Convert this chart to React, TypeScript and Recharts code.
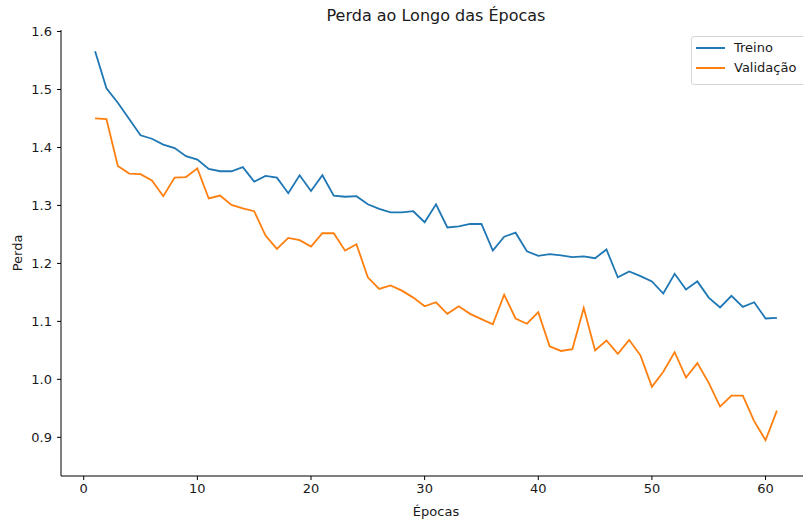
import React from "react";
import { LineChart, Line, XAxis, YAxis } from "recharts";

const epochs = [
  1, 2, 3, 4, 5, 6, 7, 8, 9, 10, 11, 12, 13, 14, 15, 16, 17, 18, 19, 20, 21,
  22, 23, 24, 25, 26, 27, 28, 29, 30, 31, 32, 33, 34, 35, 36, 37, 38, 39, 40,
  41, 42, 43, 44, 45, 46, 47, 48, 49, 50, 51, 52, 53, 54, 55, 56, 57, 58, 59,
  60, 61,
];

const treino = [
  1.566, 1.502, 1.477, 1.449, 1.421, 1.415, 1.405, 1.399, 1.385, 1.379, 1.363,
  1.359, 1.359, 1.366, 1.341, 1.351, 1.348, 1.321, 1.352, 1.325, 1.352, 1.317,
  1.315, 1.316, 1.302, 1.294, 1.288, 1.288, 1.290, 1.271, 1.302, 1.262, 1.264,
  1.268, 1.268, 1.222, 1.246, 1.253, 1.221, 1.213, 1.216, 1.214, 1.211, 1.212,
  1.209, 1.224, 1.176, 1.186, 1.178, 1.169, 1.148, 1.182, 1.155, 1.169, 1.141,
  1.124, 1.144, 1.125, 1.133, 1.105, 1.106,
];

const validacao = [
  1.450, 1.449, 1.368, 1.355, 1.354, 1.343, 1.316, 1.348, 1.349, 1.364, 1.312,
  1.317, 1.301, 1.295, 1.290, 1.248, 1.225, 1.244, 1.240, 1.229, 1.252, 1.252,
  1.222, 1.233, 1.176, 1.156, 1.162, 1.153, 1.141, 1.126, 1.133, 1.113, 1.126,
  1.113, 1.104, 1.095, 1.146, 1.105, 1.096, 1.116, 1.057, 1.049, 1.052, 1.123,
  1.050, 1.067, 1.044, 1.068, 1.041, 0.987, 1.013, 1.047, 1.003, 1.028, 0.994,
  0.953, 0.972, 0.972, 0.928, 0.895, 0.946,
];

const xTicks = [0, 10, 20, 30, 40, 50, 60];
const yTicks = [0.9, 1.0, 1.1, 1.2, 1.3, 1.4, 1.5, 1.6];

const seriesNames = ["Treino", "Validação"];
const colors = ["#1f77b4", "#ff7f0e"];

const data = epochs.map((e, i) => ({
  epoch: e,
  treino: treino[i],
  validacao: validacao[i],
}));

const FONT = "'DejaVu Sans', sans-serif";
const tickStyle = { fontSize: 13, fill: "#1a1a1a", fontFamily: FONT };

export default function App() {
  return (
    <div
      style={{
        position: "absolute",
        left: 0,
        top: 0,
        width: 803,
        height: 524,
        overflow: "hidden",
        background: "#fff",
        fontFamily: FONT,
      }}
    >
      <LineChart
        width={820}
        height={524}
        data={data}
        margin={{ top: 30, right: 9, bottom: 18, left: 0 }}
      >
        <XAxis
          xAxisId="main"
          dataKey="epoch"
          type="number"
          domain={[-2, 64]}
          ticks={xTicks}
          allowDataOverflow
          height={30}
          tickSize={4}
          tickMargin={4}
          tick={tickStyle}
          stroke="#000"
          tickLine={{ stroke: "#000" }}
          axisLine={{ stroke: "#000" }}
        />
        <XAxis
          xAxisId="top"
          orientation="top"
          type="number"
          domain={[-2, 64]}
          height={0}
          tick={false}
          tickLine={false}
          axisLine={{ stroke: "#000" }}
        />
        <YAxis
          type="number"
          domain={[0.8333, 1.6026]}
          ticks={yTicks}
          allowDataOverflow
          width={61}
          tickSize={4}
          tickMargin={5}
          tick={tickStyle}
          tickFormatter={(v: number) => v.toFixed(1)}
          tickLine={{ stroke: "#000" }}
          axisLine={{ stroke: "#000" }}
        />
        <Line
          xAxisId="main"
          type="linear"
          dataKey="treino"
          name={seriesNames[0]}
          stroke={colors[0]}
          strokeWidth={1.8}
          dot={false}
          isAnimationActive={false}
        />
        <Line
          xAxisId="main"
          type="linear"
          dataKey="validacao"
          name={seriesNames[1]}
          stroke={colors[1]}
          strokeWidth={1.8}
          dot={false}
          isAnimationActive={false}
        />
      </LineChart>

      <div
        style={{
          position: "absolute",
          left: 236,
          width: 400,
          top: 5,
          textAlign: "center",
          fontSize: 16,
          lineHeight: "22px",
          color: "#1a1a1a",
        }}
      >
        Perda ao Longo das Épocas
      </div>

      <div
        style={{
          position: "absolute",
          left: 336,
          width: 200,
          top: 502,
          textAlign: "center",
          fontSize: 13,
          lineHeight: "20px",
          color: "#1a1a1a",
        }}
      >
        Épocas
      </div>

      <div
        style={{
          position: "absolute",
          left: 18 - 50,
          top: 253 - 10,
          width: 100,
          height: 20,
          textAlign: "center",
          fontSize: 13,
          lineHeight: "20px",
          color: "#1a1a1a",
          transform: "rotate(-90deg)",
        }}
      >
        Perda
      </div>

      <div
        style={{
          position: "absolute",
          left: 691,
          top: 36,
          width: 120,
          height: 49,
          border: "1px solid #d6d6d6",
          borderRadius: 3,
          background: "rgba(255,255,255,0.8)",
          boxSizing: "border-box",
        }}
      >
        {seriesNames.map((name, i) => (
          <div
            key={name}
            style={{
              position: "absolute",
              left: 0,
              top: 1 + i * 19.5,
              height: 20,
              width: 120,
            }}
          >
            <div
              style={{
                position: "absolute",
                left: 4,
                top: 9,
                width: 29,
                height: 2,
                background: colors[i],
              }}
            />
            <div
              style={{
                position: "absolute",
                left: 42,
                top: 0,
                fontSize: 13,
                lineHeight: "20px",
                color: "#1a1a1a",
                whiteSpace: "nowrap",
              }}
            >
              {name}
            </div>
          </div>
        ))}
      </div>
    </div>
  );
}
